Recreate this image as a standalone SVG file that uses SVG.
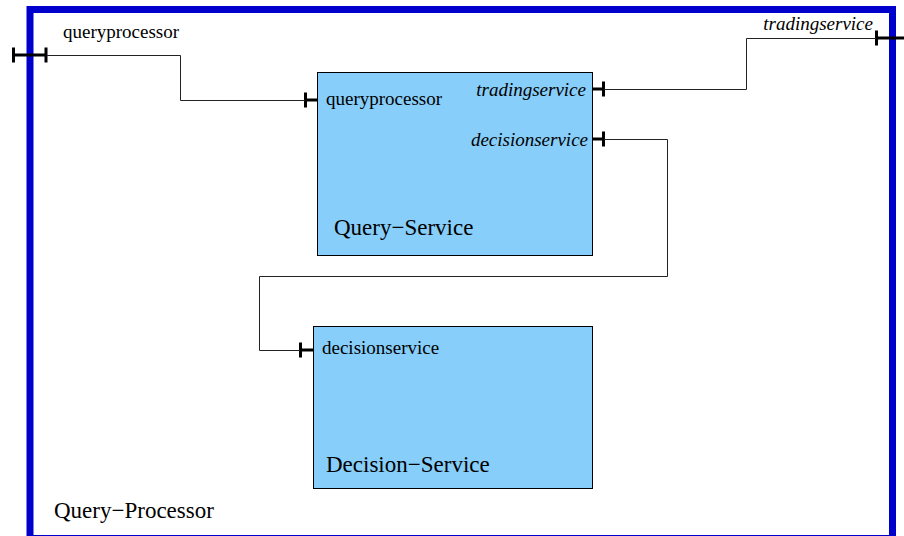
<svg xmlns="http://www.w3.org/2000/svg" width="904" height="536" viewBox="0 0 904 536">
<style>
text { font-family: "Liberation Serif", "Times New Roman", serif; fill: #000; }
.small { font-size: 19px; }
.big { font-size: 23px; }
.it { font-style: italic; }
.end { text-anchor: end; }
.frame { fill: #fff; stroke: #0000cc; stroke-width: 7; }
.box { fill: #87cefa; stroke: #000; stroke-width: 1; }
.port { fill: none; stroke: #000; stroke-width: 3; }
.conn { fill: none; stroke: #222; stroke-width: 1; }
</style>
<rect width="904" height="536" fill="#fff"/>
<g id="query-processor">
  <rect class="frame" x="30" y="9.5" width="862.5" height="529"/>
  <path class="port" d="M12 55 H47 M13.5 47.5 V62.5 M46 47.5 V62.5"/>
  <path class="port" d="M876 38 H904 M876.5 30.5 V45.5"/>
  <text class="small" x="63" y="38">queryprocessor</text>
  <text class="small it end" x="873" y="30">tradingservice</text>
  <text class="big" x="54" y="518">Query−Processor</text>
</g>
<g id="query-service">
  <rect class="box" x="317.5" y="72.5" width="275" height="183"/>
  <path class="port" d="M305.5 92.5 V107.5 M305 100 H317"/>
  <path class="port" d="M592 89 H604 M603.5 81.5 V96.5"/>
  <path class="port" d="M592 139 H604 M603.5 131.5 V146.5"/>
  <text class="small" x="326" y="105">queryprocessor</text>
  <text class="small it end" x="586" y="96">tradingservice</text>
  <text class="small it end" x="588" y="146">decisionservice</text>
  <text class="big" x="334" y="235">Query−Service</text>
</g>
<g id="decision-service">
  <rect class="box" x="313.5" y="326.5" width="279" height="162"/>
  <path class="port" d="M300.5 342.5 V357.5 M300 350 H313"/>
  <text class="small" x="322" y="354">decisionservice</text>
  <text class="big" x="326" y="472">Decision−Service</text>
</g>
<g id="connectors">
  <path class="conn" d="M47 55.5 H180.5 V100.5 H305"/>
  <path class="conn" d="M604 89.5 H746.5 V38.5 H876"/>
  <path class="conn" d="M604 139.5 H667.5 V276.5 H259.5 V350.5 H300"/>
</g>
</svg>
